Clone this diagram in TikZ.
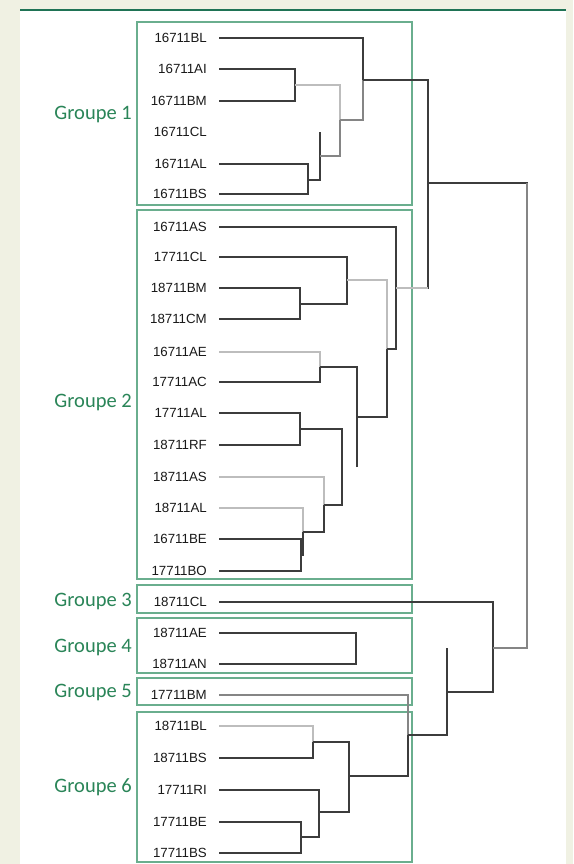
\documentclass[tikz,border=0pt]{standalone}
\usepackage{fontspec}
\setmainfont{Liberation Sans}
\newfontfamily\grpfamily{Carlito}
\definecolor{pagebg}{HTML}{F0F1E3}
\definecolor{rulegreen}{HTML}{1F7355}
\definecolor{boxgreen}{HTML}{6AAE8E}
\definecolor{grpgreen}{HTML}{2A8558}
\definecolor{dk}{HTML}{3C3C3C}
\definecolor{md}{HTML}{858585}
\definecolor{lt}{HTML}{BDBDBD}
\tikzset{
  leaf/.style={anchor=east, inner sep=0pt, text height=9.6pt, text depth=0pt,
               font=\fontsize{13.3}{15}\selectfont, text=black!90},
  grp/.style={anchor=east, inner sep=0pt, text height=12.5pt, text depth=0pt,
              font=\grpfamily\fontsize{20.5}{23}\selectfont, text=grpgreen},
  gbox/.style={draw=boxgreen, line width=1.4pt},
  br/.style={draw=dk, line width=1.3pt},
  brm/.style={draw=md, line width=1.3pt},
  brl/.style={draw=lt, line width=1.3pt},
  lstart/.style={xshift=12pt}
}
\begin{document}
\begin{tikzpicture}[x=1pt, y=-1pt]
% page and panel
\fill[pagebg] (0,0) rectangle (573,864);
\useasboundingbox (0,0) rectangle (573,864);
\fill[white] (20,10) rectangle (566,864);
\draw[rulegreen, line width=1.5pt] (20,10) -- (566,10);

% group frames
\draw[gbox] (137,22)  rectangle (412,205);
\draw[gbox] (137,210) rectangle (412,579);
\draw[gbox] (137,585) rectangle (412,613);
\draw[gbox] (137,618) rectangle (412,673);
\draw[gbox] (137,678) rectangle (412,705);
\draw[gbox] (137,712) rectangle (412,862);

% group labels
\node[grp] (g1) at (132,113) {Groupe 1};
\node[grp] (g2) at (132,401) {Groupe 2};
\node[grp] (g3) at (132,600) {Groupe 3};
\node[grp] (g4) at (132,646) {Groupe 4};
\node[grp] (g5) at (132,691) {Groupe 5};
\node[grp] (g6) at (132,786) {Groupe 6};

% leaf labels
\node[leaf] (a1) at (207,38)  {16711BL};
\node[leaf] (a2) at (207,69)  {16711AI};
\node[leaf] (a3) at (207,101) {16711BM};
\node[leaf] (a4) at (207,132) {16711CL};
\node[leaf] (a5) at (207,164) {16711AL};
\node[leaf] (a6) at (207,194) {16711BS};
\node[leaf] (b1) at (207,227) {16711AS};
\node[leaf] (b2) at (207,257) {17711CL};
\node[leaf] (b3) at (207,288) {18711BM};
\node[leaf] (b4) at (207,319) {18711CM};
\node[leaf] (b5) at (207,352) {16711AE};
\node[leaf] (b6) at (207,382) {17711AC};
\node[leaf] (b7) at (207,413) {17711AL};
\node[leaf] (b8) at (207,445) {18711RF};
\node[leaf] (b9) at (207,477) {18711AS};
\node[leaf] (b10) at (207,508) {18711AL};
\node[leaf] (b11) at (207,539) {16711BE};
\node[leaf] (b12) at (207,571) {17711BO};
\node[leaf] (c1) at (207,602) {18711CL};
\node[leaf] (d1) at (207,633) {18711AE};
\node[leaf] (d2) at (207,664) {18711AN};
\node[leaf] (e1) at (207,695) {17711BM};
\node[leaf] (f1) at (207,726) {18711BL};
\node[leaf] (f2) at (207,758) {18711BS};
\node[leaf] (f3) at (207,790) {17711RI};
\node[leaf] (f4) at (207,822) {17711BE};
\node[leaf] (f5) at (207,853) {17711BS};

% junctions: x of the vertical bar, y of the outgoing branch
\coordinate (jA) at (295,85);
\coordinate (jB) at (308,180);
\coordinate (jC) at (320,156);
\coordinate (jCt) at (320,132);
\coordinate (jD) at (340,120);
\coordinate (jE) at (363,80);
\coordinate (jF) at (300,304);
\coordinate (jG) at (347,280);
\coordinate (jH) at (320,367);
\coordinate (jI) at (300,429);
\coordinate (jJ) at (301,555);
\coordinate (jK) at (303,532);
\coordinate (jL) at (324,505);
\coordinate (jM) at (342,467);
\coordinate (jN) at (357,417);
\coordinate (jNb) at (357,467);
\coordinate (jO) at (387,349);
\coordinate (jP) at (396,288);
\coordinate (jQ) at (428,183);
\coordinate (jR) at (527,415);
\coordinate (jS) at (356,648);
\coordinate (jT) at (313,742);
\coordinate (jU) at (301,837);
\coordinate (jV) at (319,812);
\coordinate (jW) at (349,776);
\coordinate (jX) at (408,735);
\coordinate (jY) at (447,692);
\coordinate (jYt) at (447,648);
\coordinate (jZ) at (493,648);

% group 1
\draw[br]  ([lstart]a2.east) -| (jA);
\draw[br]  ([lstart]a3.east) -| (jA);
\draw[br]  ([lstart]a5.east) -| (jB);
\draw[br]  ([lstart]a6.east) -| (jB);
\draw[br]  (jCt) -- (jC);
\draw[br]  (jB) -| (jC);
\draw[brl] (jA) -| (jD);
\draw[brm] (jC) -| (jD);
\draw[br]  ([lstart]a1.east) -| (jE);
\draw[brm] (jD) -| (jE);

% group 2
\draw[br]  ([lstart]b3.east) -| (jF);
\draw[br]  ([lstart]b4.east) -| (jF);
\draw[br]  ([lstart]b2.east) -| (jG);
\draw[br]  (jF) -| (jG);
\draw[brl] ([lstart]b5.east) -| (jH);
\draw[br]  ([lstart]b6.east) -| (jH);
\draw[br]  ([lstart]b7.east) -| (jI);
\draw[br]  ([lstart]b8.east) -| (jI);
\draw[br]  ([lstart]b11.east) -| (jJ);
\draw[br]  ([lstart]b12.east) -| (jJ);
\draw[brl] ([lstart]b10.east) -| (jK);
\draw[br]  (jJ) -| (jK);
\draw[brl] ([lstart]b9.east) -| (jL);
\draw[br]  (jK) -| (jL);
\draw[br]  (jI) -| (jM);
\draw[br]  (jL) -| (jM);
\draw[br]  (jH) -| (jN);
\draw[br]  (jNb) -- (jN);
\draw[brl] (jG) -| (jO);
\draw[br]  (jN) -| (jO);
\draw[br]  ([lstart]b1.east) -| (jP);
\draw[br]  (jO) -| (jP);

% groups 1 and 2 joined
\draw[br]  (jE) -| (jQ);
\draw[br]  (jP) -| (jQ);
\draw[brl] (jP) -- (jP -| jQ);

% groups 3 to 6
\draw[br]  ([lstart]d1.east) -| (jS);
\draw[br]  ([lstart]d2.east) -| (jS);
\draw[brl] ([lstart]f1.east) -| (jT);
\draw[br]  ([lstart]f2.east) -| (jT);
\draw[br]  ([lstart]f4.east) -| (jU);
\draw[br]  ([lstart]f5.east) -| (jU);
\draw[br]  ([lstart]f3.east) -| (jV);
\draw[br]  (jU) -| (jV);
\draw[br]  (jT) -| (jW);
\draw[br]  (jV) -| (jW);
\draw[brm] ([lstart]e1.east) -| (jX);
\draw[br]  (jW) -| (jX);
\draw[br]  (jX) -| (jY);
\draw[br]  (jYt) -- (jY);
\draw[br]  ([lstart]c1.east) -| (jZ);
\draw[br]  (jY) -| (jZ);

% top-level link
\draw[br]  (jQ) -| (jR);
\draw[brm] (jZ) -| (jR);
\draw[brm] (jQ -| jR) -- (jR);
\end{tikzpicture}
\end{document}
